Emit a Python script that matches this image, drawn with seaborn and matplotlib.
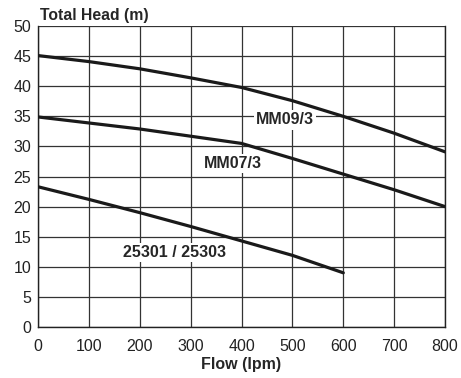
import matplotlib
matplotlib.use("Agg")
import matplotlib.pyplot as plt
import seaborn as sns
import pandas as pd

flow_mm = [0, 100, 200, 300, 400, 500, 600, 700, 800]
head_mm09 = [45.1, 44.1, 42.9, 41.4, 39.8, 37.6, 35.0, 32.2, 29.1]
head_mm07 = [34.9, 33.9, 32.9, 31.7, 30.5, 28.0, 25.4, 22.8, 20.0]
flow_253 = [0, 100, 200, 300, 400, 500, 600]
head_253 = [23.3, 21.2, 19.0, 16.7, 14.3, 11.9, 9.0]
x_ticks = [0, 100, 200, 300, 400, 500, 600, 700, 800]
y_ticks = [0, 5, 10, 15, 20, 25, 30, 35, 40, 45, 50]

df = pd.concat([
    pd.DataFrame({"flow": flow_mm, "head": head_mm09, "model": "MM09/3"}),
    pd.DataFrame({"flow": flow_mm, "head": head_mm07, "model": "MM07/3"}),
    pd.DataFrame({"flow": flow_253, "head": head_253, "model": "25301 / 25303"}),
])

sns.set_style("white")
plt.rcParams["font.family"] = ["Liberation Sans", "DejaVu Sans"]

fig = plt.figure(figsize=(4.61, 3.78), dpi=100)
ax = fig.add_axes([0.0824, 0.135, 0.883, 0.796])

for name, sub in df.groupby("model", sort=False):
    sns.lineplot(data=sub, x="flow", y="head", ax=ax, color="#1a1a1a",
                 linewidth=2.3, legend=False, zorder=3)

ax.set_xlim(0, 800)
ax.set_ylim(0, 50)
ax.set_xticks(x_ticks)
ax.set_yticks(y_ticks)
ax.tick_params(axis="both", labelsize=11.5, colors="#222222", length=3,
               width=0.8, direction="out", pad=2)
ax.tick_params(axis="x", pad=6)
ax.grid(True, color="#333333", linewidth=0.9)
for s in ax.spines.values():
    s.set_color("#222222")
    s.set_linewidth(1.0)
ax.spines["top"].set_visible(False)

ax.set_xlabel("Flow (lpm)", fontsize=11.5, fontweight="bold", labelpad=2)
ax.set_ylabel("")
fig.text(0.087, 0.94, "Total Head (m)", fontsize=11.3, fontweight="bold", ha="left", va="bottom")

bbox = dict(facecolor="white", edgecolor="none", pad=1.5)
ax.text(485, 34.4, "MM09/3", fontsize=11.5, fontweight="bold", ha="center", va="center", bbox=bbox, zorder=4)
ax.text(383, 27.2, "MM07/3", fontsize=11.5, fontweight="bold", ha="center", va="center", bbox=bbox, zorder=4)
ax.text(269, 12.4, "25301 / 25303", fontsize=11.5, fontweight="bold", ha="center", va="center", bbox=bbox, zorder=4)

fig.savefig("out.png", dpi=100)
